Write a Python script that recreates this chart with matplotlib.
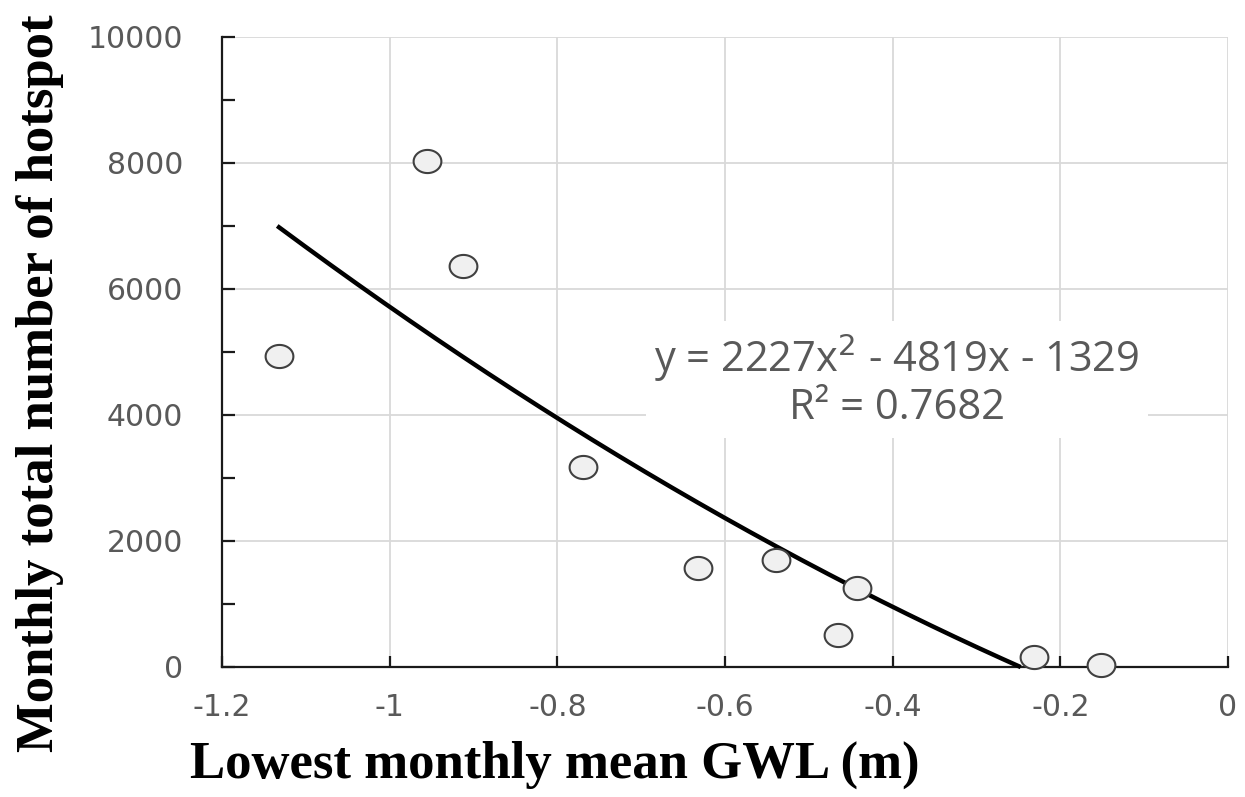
import numpy as np
from matplotlib import pyplot as plt
from matplotlib.ticker import MultipleLocator
from matplotlib.path import Path

# values
gwl = [-1.132, -0.955, -0.912, -0.769, -0.632, -0.539, -0.442, -0.465, -0.232, -0.151]
hotspots = [4930, 8030, 6360, 3180, 1570, 1700, 1260, 510, 160, 30]

# trendline as printed on the chart
fit_coef = [2227, -4819, -1329]
fit_label = 'y = 2227x$^2$ - 4819x - 1329\nR² = 0.7682'

fig = plt.figure( figsize=( 12.45, 7.97 ), dpi=100 )
ax = fig.add_axes( [ 222/1245, 1 - 667/797, 1006/1245, 630/797 ] )

grid_c = '#d9d9d9'
text_c = '#595959'

ax.set_xlim( -1.2, 0 )
ax.set_ylim( 0, 10000 )
ax.xaxis.set_major_locator( MultipleLocator( 0.2 ))
ax.yaxis.set_major_locator( MultipleLocator( 2000 ))
ax.yaxis.set_minor_locator( MultipleLocator( 1000 ))
ax.grid( True, which='major', color=grid_c, linewidth=1.3, zorder=0 )
ax.set_axisbelow( True )

for s in ['top', 'right']:
    ax.spines[s].set_visible( False )
for s in ['left', 'bottom']:
    ax.spines[s].set_linewidth( 1.6 )
    ax.spines[s].set_color( '#1a1a1a' )

ax.tick_params( axis='both', which='both', direction='in', color='#1a1a1a', width=1.6,
                labelcolor=text_c, labelsize=21.5 )
ax.tick_params( axis='y', which='both', length=9, pad=28 )
ax.tick_params( axis='x', length=8, pad=19 )
for lab in ax.get_xticklabels() + ax.get_yticklabels():
    lab.set_family( 'DejaVu Sans' )

ax.xaxis.set_major_formatter( plt.FuncFormatter( lambda v, p: '%g' % round( v, 1 ) if abs( v ) > 1e-9 else '0' ))

# trendline, cut where it reaches zero like the original
xs = np.linspace( min( gwl ), 0, 400 )
ys = np.polyval( fit_coef, xs )
keep = ys >= 0
ax.plot( xs[keep], ys[keep], color='black', linewidth=3.2, zorder=3, clip_on=False )

# slightly wide ellipse marker, like the stretched original
t = np.linspace( 0, 2*np.pi, 60 )
oval = Path( np.column_stack([ 1.2*np.cos( t ), np.sin( t ) ]), closed=True )

ax.scatter( gwl, hotspots, s=400, marker=oval, facecolor='#f0f0f0', edgecolor='#404040',
            linewidth=1.5, zorder=4, clip_on=False )

ax.text( 0.671, 0.455, fit_label, transform=ax.transAxes, ha='center', va='center',
         fontsize=30, color=text_c, family='Open Sans', linespacing=1.1,
         bbox=dict( facecolor='white', edgecolor='none', pad=6 ), zorder=2 )

fig.text( 40/1245, 1 - 383/797, 'Monthly total number of hotspot', rotation=90,
          ha='center', va='center', fontsize=38, fontweight='bold', family='Liberation Serif' )
fig.text( 555/1245, 1 - 765/797, 'Lowest monthly mean GWL (m)',
          ha='center', va='center', fontsize=38, fontweight='bold', family='Liberation Serif' )

fig.savefig( 'out.png', dpi=100 )
